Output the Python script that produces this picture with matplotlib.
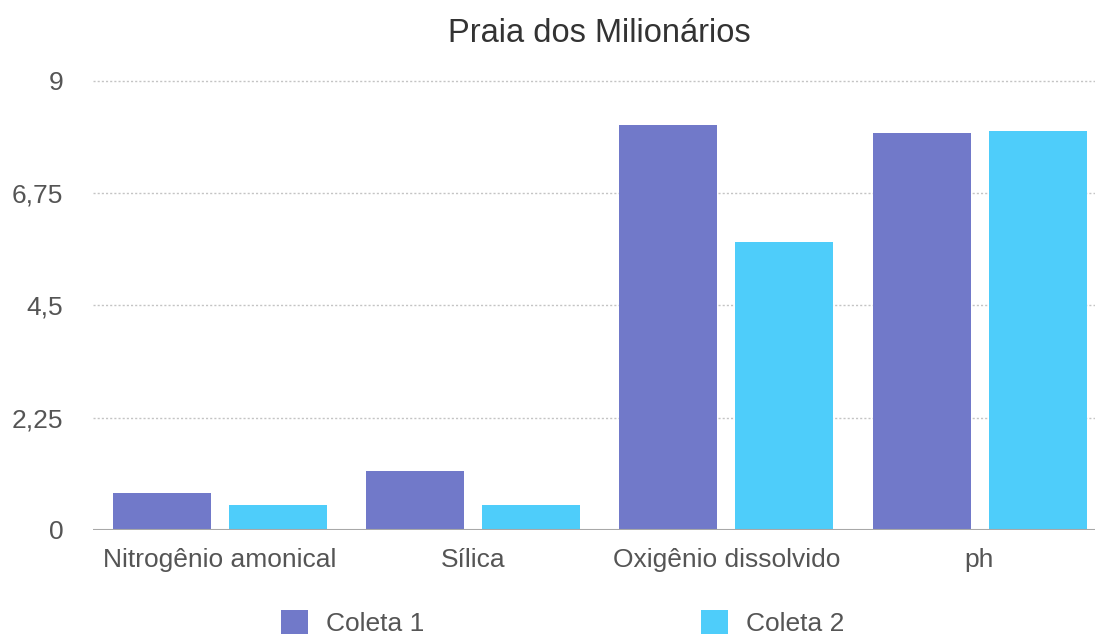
import matplotlib
matplotlib.use("Agg")
import matplotlib.pyplot as plt
import numpy as np

plt.rcParams['font.family'] = ['Liberation Sans', 'DejaVu Sans']

# dados
categorias = ['Nitrogênio amonical', 'Sílica', 'Oxigênio dissolvido', 'ph']
coleta1 = [0.75, 1.19, 8.11, 7.94]
coleta2 = [0.51, 0.51, 5.77, 7.98]
y_ticks = [0, 2.25, 4.5, 6.75, 9]
y_labels = ['0', '2,25', '4,5', '6,75', '9']

cor1 = '#7179c9'
cor2 = '#4ecdfa'

fig = plt.figure(figsize=(10.95, 6.39), dpi=100)
ax = fig.add_axes([0.085, 0.1706, 0.915, 0.7034])

x = np.arange(len(categorias))
larg = 0.387
desl = 0.229
ax.bar(x - desl, coleta1, larg, color=cor1, label='Coleta 1', zorder=3)
ax.bar(x + desl, coleta2, larg, color=cor2, label='Coleta 2', zorder=3)

ax.set_xlim(-0.5, 3.456)
ax.set_ylim(0, 9)
ax.set_yticks(y_ticks)
ax.set_yticklabels(y_labels)
ax.set_xticks(x)
ax.set_xticklabels(categorias)

# grade pontilhada
for t in y_ticks[1:]:
    ax.axhline(t, color='#c4c4c4', linestyle=(0, (1.5, 1.5)), linewidth=1, zorder=1, clip_on=False)
ax.axhline(0, color='#a8a8a8', linewidth=1.5, zorder=4)

for s in ax.spines.values():
    s.set_visible(False)
ax.tick_params(axis='both', length=0, labelsize=19, colors='#555555')
ax.tick_params(axis='y', pad=21.5)
ax.tick_params(axis='x', pad=13)

fig.text(0.547, 0.948, 'Praia dos Milionários', ha='center', va='center',
         fontsize=23.5, color='#333333')

fig.legend(loc='center', bbox_to_anchor=(0.514, 0.025), ncol=2, frameon=False,
           fontsize=19, handlelength=1.0, handleheight=1.05, handletextpad=0.7,
           columnspacing=10.5, borderpad=0, labelcolor='#555555')

plt.savefig('out.png', dpi=100)
